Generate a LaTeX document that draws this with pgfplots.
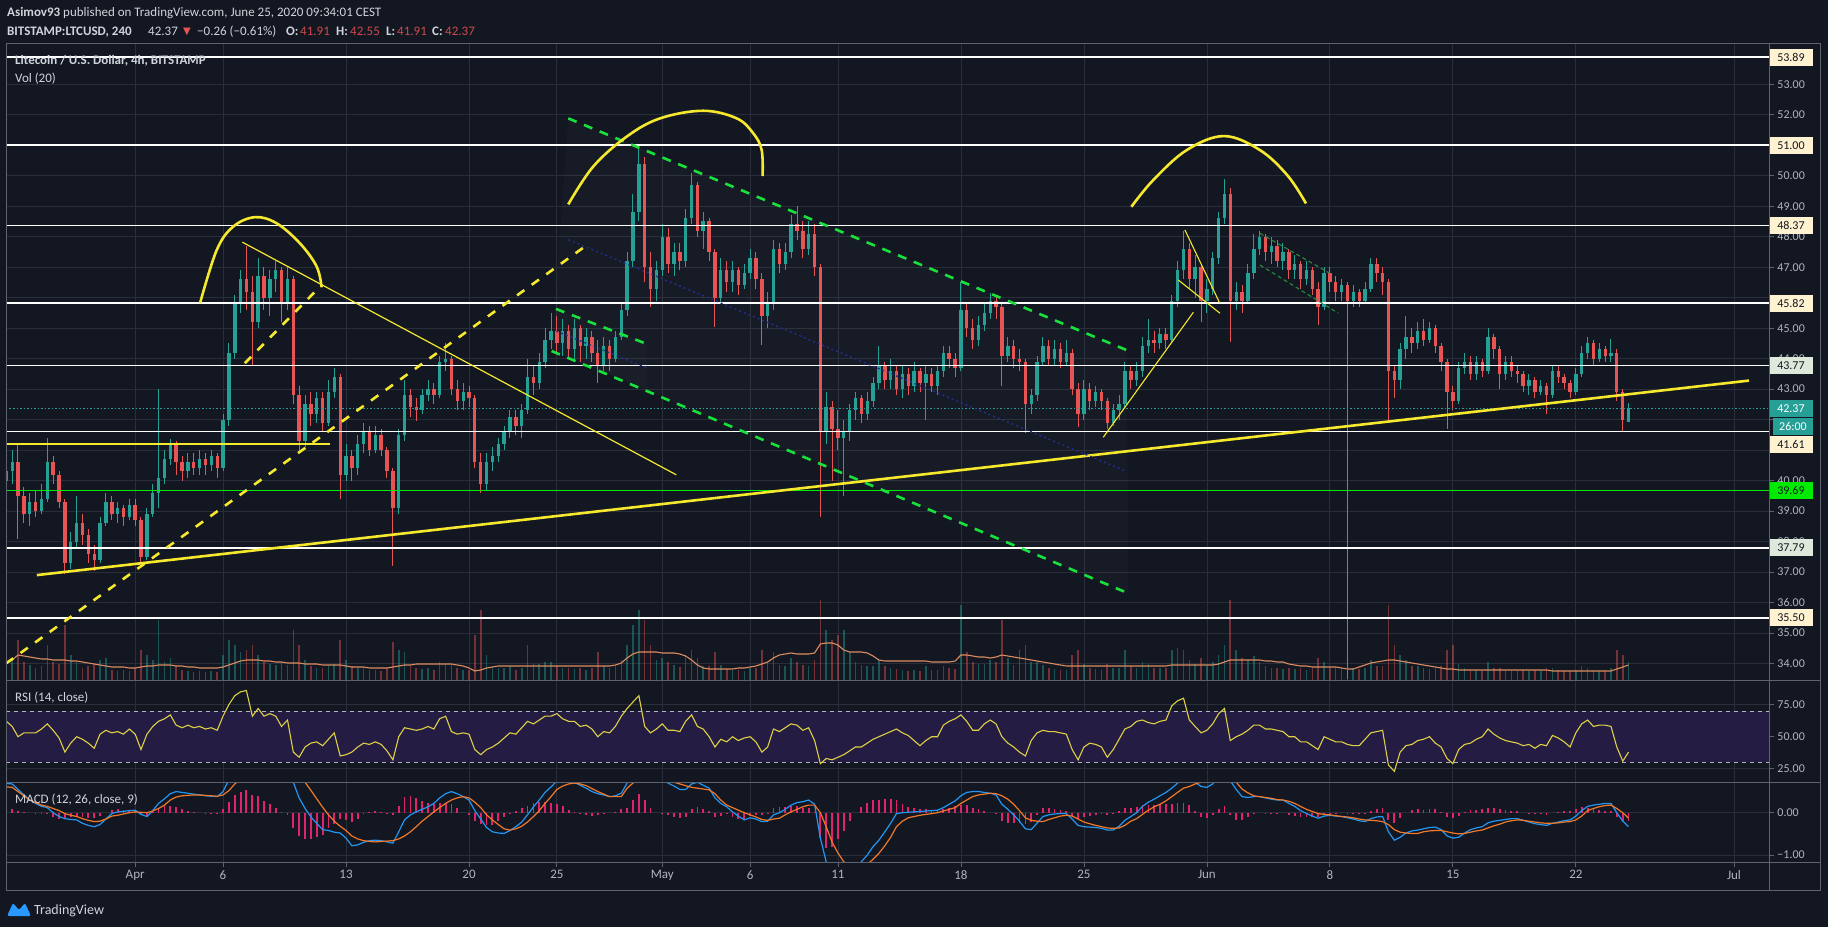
\documentclass[border=0pt]{standalone}
\usepackage{pgfplots}
\pgfplotsset{compat=1.18}
\usepackage{pgfplotstable}
\usepackage{fontspec}
\setmainfont{Carlito}
\newfontfamily\dejavu{DejaVu Sans}
\definecolor{bg}{RGB}{19,23,34}
\definecolor{txt}{RGB}{209,212,220}
\definecolor{labc}{RGB}{178,181,190}
\definecolor{gridc}{RGB}{42,46,58}
\definecolor{framec}{RGB}{95,99,110}
\definecolor{cup}{RGB}{38,160,148}
\definecolor{cdn}{RGB}{232,84,84}
\definecolor{ylw}{RGB}{245,232,45}
\definecolor{grn}{RGB}{25,225,60}
\definecolor{dgrn}{RGB}{40,140,60}
\definecolor{limec}{RGB}{0,235,0}
\definecolor{tealc}{RGB}{38,160,150}
\definecolor{beige}{RGB}{255,242,208}
\definecolor{pale}{RGB}{222,233,220}
\definecolor{rsic}{RGB}{222,208,70}
\definecolor{rsiband}{RGB}{36,28,66}
\definecolor{macdc}{RGB}{33,150,243}
\definecolor{sigc}{RGB}{240,120,40}
\definecolor{histc}{RGB}{225,35,110}
\definecolor{volma}{RGB}{220,140,95}
\definecolor{navy}{RGB}{35,45,140}
\definecolor{tvblue}{RGB}{41,152,255}
\definecolor{redtxt}{RGB}{205,75,75}

\pgfplotstableread{
x o h l c v vm r m s
-7.33 40.0 40.7 39.6 40.3 20 18 62 0.69 0.61
-7.00 40.3 41.0 39.9 40.6 22 20 58 0.68 0.60
-6.67 40.6 41.2 38.1 39.5 40 25 50 0.55 0.50
-6.33 39.5 39.8 38.6 38.9 18 24 53 0.42 0.40
-6.00 38.9 39.6 38.5 39.3 15 23 53 0.30 0.30
-5.67 39.3 39.7 38.8 39.0 12 22 53 0.22 0.24
-5.33 39.0 39.9 38.9 39.4 14 21 56 0.15 0.18
-5.00 39.4 41.4 39.3 40.6 35 21 60 0.12 0.15
-4.67 40.6 40.8 39.9 40.2 18 20 55 0.00 0.10
-4.33 40.2 40.3 39.1 39.3 16 20 49 -0.09 0.05
-4.00 39.3 39.4 36.95 37.3 55 20 38 -0.14 -0.02
-3.67 37.3 38.3 37.1 38.0 25 19 45 -0.16 -0.06
-3.33 38.0 39.5 37.8 38.6 18 19 50 -0.17 -0.09
-3.00 38.6 38.9 37.9 38.2 12 18 48 -0.25 -0.14
-2.67 38.2 38.4 37.3 37.6 14 17 45 -0.30 -0.18
-2.33 37.6 37.9 37.05 37.4 16 16 41 -0.33 -0.21
-2.00 37.4 38.8 37.3 38.6 20 15 52 -0.28 -0.20
-1.67 38.6 39.6 38.5 39.3 22 14 55 -0.15 -0.15
-1.33 39.3 39.5 38.7 38.9 10 13 53 -0.02 -0.08
-1.00 38.9 39.3 38.6 39.1 9 13 54 0.02 -0.06
-0.67 39.1 39.2 38.5 38.8 10 13 52 0.03 -0.03
-0.33 38.8 39.4 38.7 39.2 9 12 56 0.05 0.00
0.00 39.2 39.4 38.5 38.7 12 12 52 0.06 0.02
0.33 38.7 38.8 37.25 37.5 30 13 40 -0.04 0.01
0.67 37.5 39.1 37.4 38.9 25 14 52 -0.09 0.00
1.00 38.9 39.9 38.8 39.6 20 14 58 0.05 0.04
1.33 39.6 43.0 39.1 40.1 60 15 62 0.22 0.10
1.67 40.1 41.0 39.9 40.7 18 15 64 0.33 0.18
2.00 40.7 41.35 40.5 41.2 22 15 67 0.45 0.30
2.33 41.2 41.3 40.2 40.6 14 14 59 0.50 0.37
2.67 40.6 40.8 40.0 40.3 10 14 57 0.48 0.40
3.00 40.3 40.9 40.1 40.6 9 13 59 0.46 0.41
3.33 40.6 40.9 40.2 40.4 8 13 57 0.44 0.42
3.67 40.4 41.0 40.2 40.7 9 12 58 0.42 0.42
4.00 40.7 40.9 40.2 40.5 8 12 56 0.40 0.41
4.33 40.5 41.0 40.3 40.8 9 12 57 0.39 0.40
4.67 40.8 40.9 40.1 40.4 8 12 55 0.38 0.39
5.00 40.4 42.2 40.3 42.0 25 13 66 0.50 0.42
5.33 42.0 44.5 41.8 44.2 40 15 75 0.78 0.52
5.67 44.2 46.1 44.0 45.8 35 17 82 1.10 0.68
6.00 45.8 46.9 45.5 46.6 28 19 85 1.30 0.80
6.33 46.6 47.7 45.6 46.2 30 20 86 1.42 0.88
6.67 46.2 46.7 43.8 45.2 35 20 66 1.40 0.98
7.00 45.2 47.3 45.0 46.7 25 20 72 1.45 1.06
7.33 46.7 47.0 45.6 46.0 18 19 66 1.40 1.12
7.67 46.0 46.9 45.4 46.6 16 19 68 1.36 1.16
8.00 46.6 47.2 46.2 46.9 15 18 66 1.32 1.20
8.33 46.9 47.0 45.2 45.8 18 18 58 1.22 1.21
8.67 45.8 47.0 45.6 46.6 15 17 63 1.15 1.20
9.00 46.6 46.7 42.5 42.8 50 17 38 0.72 1.08
9.33 42.8 43.1 41.0 41.3 35 17 34 0.35 0.90
9.67 41.3 42.8 41.1 42.5 20 16 42 0.10 0.72
10.00 42.5 42.9 41.8 42.2 14 16 45 -0.10 0.53
10.33 42.2 42.9 41.9 42.7 12 16 46 -0.25 0.33
10.67 42.7 42.9 41.6 41.9 12 15 43 -0.40 0.13
11.00 41.9 43.3 41.8 42.9 15 15 48 -0.42 -0.05
11.33 42.9 43.7 42.7 43.4 16 15 53 -0.46 -0.20
11.67 43.4 43.5 39.4 40.2 40 15 35 -0.48 -0.32
12.00 40.2 41.2 40.0 40.8 20 14 36 -0.60 -0.42
12.33 40.8 41.0 40.0 40.4 14 13 38 -0.78 -0.55
12.67 40.4 41.5 40.2 41.2 12 13 42 -0.76 -0.62
13.00 41.2 41.9 40.9 41.6 12 13 45 -0.70 -0.66
13.33 41.6 41.8 40.8 41.0 10 12 44 -0.66 -0.68
13.67 41.0 41.8 40.9 41.5 10 12 46 -0.65 -0.69
14.00 41.5 41.7 40.8 41.0 9 12 44 -0.66 -0.68
14.33 41.0 41.1 40.1 40.3 12 12 39 -0.69 -0.67
14.67 40.3 40.4 37.2 39.1 38 13 32 -0.72 -0.66
15.00 39.1 41.7 38.9 41.5 30 14 50 -0.45 -0.62
15.33 41.5 43.3 41.3 42.8 28 15 57 -0.17 -0.55
15.67 42.8 43.0 42.1 42.4 14 15 56 -0.05 -0.45
16.00 42.4 42.7 41.95 42.3 12 16 55 0.02 -0.33
16.33 42.3 43.0 42.2 42.8 11 16 56 0.08 -0.20
16.67 42.8 43.3 42.6 43.0 12 16 58 0.14 -0.09
17.00 43.0 43.2 42.5 42.8 10 16 56 0.22 0.02
17.33 42.8 44.1 42.7 43.9 18 16 64 0.35 0.12
17.67 43.9 44.5 43.6 44.0 16 16 66 0.45 0.22
18.00 44.0 44.1 42.8 43.0 15 16 54 0.50 0.30
18.33 43.0 43.3 42.3 42.6 12 15 52 0.45 0.35
18.67 42.6 43.2 42.3 42.9 10 14 53 0.38 0.38
19.00 42.9 43.1 42.4 42.7 10 12 52 0.30 0.35
19.33 42.7 42.8 40.4 40.6 45 9 40 0.05 0.25
19.67 40.6 40.9 39.6 39.9 70 10 36 -0.15 0.12
20.00 39.9 40.9 39.7 40.6 25 12 40 -0.35 -0.05
20.33 40.6 41.1 40.3 40.8 14 13 42 -0.45 -0.17
20.67 40.8 41.4 40.6 41.2 12 14 45 -0.48 -0.28
21.00 41.2 41.8 41.0 41.6 12 14 49 -0.49 -0.38
21.33 41.6 42.3 41.4 42.1 14 14 53 -0.42 -0.41
21.67 42.1 42.3 41.5 41.8 10 14 52 -0.33 -0.38
22.00 41.8 42.5 41.4 42.3 12 14 57 -0.22 -0.32
22.33 42.3 44.0 42.2 43.4 35 14 62 -0.05 -0.22
22.67 43.4 43.8 42.8 43.2 16 14 60 0.14 -0.09
23.00 43.2 44.2 43.0 43.9 16 14 63 0.30 0.05
23.33 43.9 45.0 43.7 44.6 18 14 66 0.48 0.22
23.67 44.6 45.5 44.3 44.9 18 14 66 0.61 0.38
24.00 44.9 45.4 44.2 44.5 14 14 68 0.75 0.55
24.33 44.5 45.3 44.1 44.9 12 14 64 0.78 0.63
24.67 44.9 45.1 44.0 44.3 12 14 62 0.75 0.68
25.00 44.3 45.3 44.0 45.0 11 14 62 0.72 0.70
25.33 45.0 45.1 43.9 44.4 12 14 58 0.65 0.68
25.67 44.4 45.0 44.0 44.7 10 14 59 0.58 0.64
26.00 44.7 44.9 43.9 44.2 12 14 56 0.50 0.57
26.33 44.2 44.6 43.2 43.8 28 14 50 0.45 0.50
26.67 43.8 44.7 43.6 44.4 14 14 54 0.42 0.44
27.00 44.4 44.6 43.6 44.0 12 14 53 0.38 0.38
27.33 44.0 44.9 43.9 44.7 14 15 58 0.40 0.38
27.67 44.7 45.8 44.6 45.6 20 17 66 0.46 0.38
28.00 45.6 47.5 45.4 47.2 35 22 72 0.70 0.58
28.33 47.2 49.4 47.0 48.8 55 26 77 1.00 0.70
28.67 48.8 51.0 48.5 50.4 70 28 82 1.25 0.80
29.00 50.4 50.6 46.5 47.0 60 28 58 1.15 0.84
29.33 47.0 47.5 45.7 46.3 35 28 53 0.95 0.85
29.67 46.3 47.2 45.9 46.9 20 28 56 0.82 0.82
30.00 46.9 48.4 46.7 48.0 22 27 60 0.78 0.80
30.33 48.0 48.3 46.8 47.1 18 27 55 0.70 0.76
30.67 47.1 47.8 46.7 47.5 15 27 55 0.63 0.72
31.00 47.5 47.8 46.9 47.2 13 26 54 0.55 0.68
31.33 47.2 48.9 47.0 48.6 25 24 62 0.55 0.64
31.67 48.6 50.1 48.4 49.7 30 20 67 0.68 0.60
32.00 49.7 49.8 48.0 48.2 22 15 58 0.72 0.58
32.33 48.2 48.8 47.6 48.5 14 12 56 0.65 0.56
32.67 48.5 48.6 47.2 47.5 14 11 50 0.58 0.54
33.00 47.5 47.6 45.05 46.0 28 11 42 0.35 0.45
33.33 46.0 47.3 45.8 46.9 15 11 48 0.22 0.30
33.67 46.9 47.2 46.2 46.5 11 11 46 0.14 0.18
34.00 46.5 47.2 46.2 46.9 10 11 50 0.02 0.12
34.33 46.9 47.0 46.1 46.4 10 12 47 -0.08 0.06
34.67 46.4 47.1 46.3 46.8 9 12 49 -0.17 0.00
35.00 46.8 47.6 46.6 47.3 12 13 50 -0.12 -0.05
35.33 47.3 47.5 46.3 46.6 12 14 46 -0.15 -0.10
35.67 46.6 46.8 44.45 45.4 30 16 38 -0.21 -0.16
36.00 45.4 46.2 45.0 45.8 18 18 42 -0.20 -0.18
36.33 45.8 47.9 45.6 47.6 28 22 56 -0.05 -0.15
36.67 47.6 47.8 46.8 47.1 15 25 54 0.00 -0.13
37.00 47.1 47.8 46.9 47.5 14 26 57 0.08 -0.05
37.33 47.5 48.7 47.3 48.4 22 27 60 0.18 0.02
37.67 48.4 49.0 47.9 48.2 18 26 59 0.24 0.08
38.00 48.2 48.5 47.3 47.6 15 26 55 0.26 0.14
38.33 47.6 48.5 47.4 48.1 14 26 57 0.30 0.18
38.67 48.1 48.4 46.7 47.0 20 27 47 0.20 0.18
39.00 47.0 47.1 38.8 41.6 80 36 29 -0.60 0.00
39.33 41.6 42.9 41.2 42.4 50 37 33 -1.16 -0.33
39.67 42.4 42.6 40.0 41.7 40 37 32 -1.50 -0.70
40.00 41.7 42.3 41.0 41.4 45 35 34 -1.58 -0.95
40.33 41.4 42.0 39.5 41.6 50 30 36 -1.60 -1.16
40.67 41.6 42.5 41.3 42.3 28 28 39 -1.45 -1.25
41.00 42.3 42.9 42.0 42.7 18 28 42 -1.30 -1.30
41.33 42.7 42.8 41.9 42.2 15 28 42 -1.16 -1.30
41.67 42.2 42.9 42.0 42.6 14 27 45 -1.00 -1.22
42.00 42.6 43.4 42.4 43.2 14 24 48 -0.80 -1.10
42.33 43.2 44.4 43.0 43.8 20 20 50 -0.65 -0.96
42.67 43.8 43.9 43.0 43.3 14 19 52 -0.45 -0.78
43.00 43.3 44.0 43.0 43.6 12 19 54 -0.25 -0.58
43.33 43.6 43.8 42.8 43.0 11 19 56 -0.02 -0.33
43.67 43.0 43.8 42.7 43.5 10 19 53 0.00 -0.20
44.00 43.5 43.7 42.8 43.1 9 19 51 0.01 -0.12
44.33 43.1 43.9 42.9 43.6 10 19 47 0.02 -0.09
44.67 43.6 43.7 42.9 43.2 9 19 43 0.03 -0.06
45.00 43.2 43.8 42.0 43.5 14 19 47 0.04 -0.04
45.33 43.5 43.7 42.9 43.1 10 18 50 0.05 -0.02
45.67 43.1 43.8 42.8 43.6 10 18 50 0.06 0.00
46.00 43.6 44.4 43.4 44.2 14 18 59 0.12 0.04
46.33 44.2 44.4 43.7 44.0 12 18 62 0.20 0.08
46.67 44.0 44.2 43.4 43.7 11 19 64 0.28 0.12
47.00 43.7 46.5 43.6 45.6 75 25 67 0.40 0.22
47.33 45.6 45.8 44.7 45.0 28 25 62 0.48 0.30
47.67 45.0 45.3 44.3 44.6 18 24 55 0.50 0.38
48.00 44.6 45.4 44.4 45.1 16 23 55 0.50 0.42
48.33 45.1 45.8 44.9 45.5 16 23 60 0.48 0.44
48.67 45.5 46.15 45.3 45.9 20 22 63 0.46 0.46
49.00 45.9 46.1 45.3 45.7 18 23 60 0.42 0.45
49.33 45.7 45.8 43.1 44.1 60 25 50 0.20 0.40
49.67 44.1 44.7 43.9 44.4 22 24 45 0.08 0.32
50.00 44.4 44.6 43.7 44.0 15 23 42 -0.05 0.20
50.33 44.0 44.3 43.6 43.9 30 22 38 -0.20 0.05
50.67 43.9 44.0 41.55 42.5 35 21 35 -0.38 -0.12
51.00 42.5 43.0 42.2 42.8 18 20 47 -0.40 -0.18
51.33 42.8 44.1 42.6 43.9 18 19 53 -0.25 -0.20
51.67 43.9 44.7 43.8 44.4 15 18 55 -0.09 -0.21
52.00 44.4 44.6 43.8 44.0 12 17 54 -0.05 -0.16
52.33 44.0 44.6 43.8 44.3 11 16 54 -0.03 -0.12
52.67 44.3 44.5 43.7 43.9 10 15 53 -0.02 -0.08
53.00 43.9 44.6 43.8 44.2 10 14 52 -0.02 -0.06
53.33 44.2 44.3 42.8 43.0 25 14 40 -0.15 -0.08
53.67 43.0 43.2 41.75 42.2 30 14 32 -0.30 -0.15
54.00 42.2 43.3 42.0 43.0 16 14 42 -0.33 -0.22
54.33 43.0 43.2 42.3 42.6 12 14 45 -0.34 -0.26
54.67 42.6 43.1 42.4 42.9 11 14 44 -0.35 -0.30
55.00 42.9 43.0 42.3 42.6 10 14 42 -0.37 -0.33
55.33 42.6 42.7 41.7 41.9 16 14 34 -0.41 -0.36
55.67 41.9 42.5 41.8 42.3 12 14 40 -0.41 -0.37
56.00 42.3 42.8 42.0 42.5 12 14 48 -0.32 -0.36
56.33 42.5 43.9 42.4 43.6 30 14 56 -0.18 -0.30
56.67 43.6 43.8 43.0 43.3 14 14 58 -0.09 -0.20
57.00 43.3 43.9 43.1 43.6 12 14 62 0.00 -0.14
57.33 43.6 44.7 43.4 44.4 18 14 63 0.15 -0.04
57.67 44.4 45.3 44.2 44.6 16 14 61 0.25 0.06
58.00 44.6 44.9 44.2 44.5 12 14 60 0.32 0.14
58.33 44.5 45.0 44.3 44.8 12 14 62 0.40 0.20
58.67 44.8 45.0 44.3 44.6 12 14 63 0.48 0.28
59.00 44.6 46.1 44.5 45.9 30 15 74 0.58 0.38
59.33 45.9 47.2 45.7 46.9 32 15 78 0.70 0.48
59.67 46.9 48.2 46.6 47.6 30 15 80 0.80 0.58
60.00 47.6 47.8 46.3 46.6 20 15 63 0.80 0.62
60.33 46.6 47.4 46.0 47.0 16 15 58 0.72 0.68
60.67 47.0 47.1 45.2 45.9 22 15 53 0.62 0.72
61.00 45.9 46.6 45.5 46.3 14 15 55 0.60 0.72
61.33 46.3 47.5 46.1 47.3 18 15 60 0.68 0.73
61.67 47.3 48.8 47.1 48.6 25 16 68 0.85 0.76
62.00 48.6 49.9 48.4 49.4 35 18 72 0.95 0.78
62.33 49.4 49.6 44.55 45.9 80 20 47 0.75 0.80
62.67 45.9 46.5 45.6 46.2 30 20 50 0.55 0.72
63.00 46.2 46.4 45.5 45.9 22 20 52 0.38 0.56
63.33 45.9 47.1 45.8 46.8 20 20 55 0.36 0.47
63.67 46.8 48.1 46.6 47.6 24 20 59 0.38 0.40
64.00 47.6 48.2 47.4 48.0 18 20 59 0.38 0.38
64.33 48.0 48.1 47.2 47.5 14 19 56 0.35 0.36
64.67 47.5 48.0 47.1 47.7 12 19 56 0.32 0.34
65.00 47.7 47.9 47.0 47.2 12 18 55 0.30 0.31
65.33 47.2 47.8 46.9 47.5 11 18 54 0.30 0.30
65.67 47.5 47.6 46.6 46.9 12 16 50 0.22 0.27
66.00 46.9 47.4 46.6 47.1 11 15 50 0.15 0.22
66.33 47.1 47.2 46.3 46.6 12 14 46 0.05 0.15
66.67 46.6 47.2 46.4 46.9 10 14 46 -0.02 0.08
67.00 46.9 47.0 46.1 46.3 12 13 43 -0.08 0.03
67.33 46.3 46.5 45.1 45.7 22 13 40 -0.13 -0.02
67.67 45.7 47.0 45.6 46.8 18 13 50 -0.08 -0.04
68.00 46.8 47.0 46.2 46.5 12 13 48 -0.06 -0.05
68.33 46.5 46.7 45.9 46.2 12 13 46 -0.08 -0.07
68.67 46.2 46.6 45.9 46.4 12 12 46 -0.09 -0.09
69.00 46.4 46.5 33.5 45.9 20 11 44 -0.12 -0.10
69.33 45.9 46.4 45.7 46.2 12 11 43 -0.15 -0.12
69.67 46.2 46.3 45.7 45.9 11 13 43 -0.19 -0.15
70.00 45.9 46.5 45.8 46.3 12 15 48 -0.21 -0.17
70.33 46.3 47.3 46.2 47.1 20 17 53 -0.14 -0.18
70.67 47.1 47.3 46.5 46.8 14 18 54 -0.10 -0.19
71.00 46.8 47.0 46.1 46.5 14 19 55 -0.09 -0.21
71.33 46.5 46.6 42.0 43.6 75 20 28 -0.45 -0.28
71.67 43.6 43.8 42.7 43.3 35 20 23 -0.65 -0.40
72.00 43.3 44.5 43.0 44.3 25 19 38 -0.58 -0.46
72.33 44.3 45.4 44.0 44.7 20 18 43 -0.48 -0.48
72.67 44.7 45.0 44.2 44.5 14 17 44 -0.43 -0.49
73.00 44.5 45.2 44.3 44.9 14 16 47 -0.41 -0.49
73.33 44.9 45.3 44.4 44.6 12 15 48 -0.38 -0.45
73.67 44.6 45.2 44.5 45.0 11 14 50 -0.35 -0.43
74.00 45.0 45.1 44.2 44.4 12 13 45 -0.34 -0.42
74.33 44.4 44.5 43.6 43.9 14 12 42 -0.40 -0.42
74.67 43.9 44.0 41.7 42.9 30 11 33 -0.55 -0.45
75.00 42.9 43.1 42.3 42.6 35 11 29 -0.60 -0.48
75.33 42.6 43.9 42.5 43.7 16 10 40 -0.58 -0.50
75.67 43.7 44.2 43.5 43.9 12 10 44 -0.48 -0.49
76.00 43.9 44.1 43.3 43.5 10 10 45 -0.40 -0.46
76.33 43.5 44.1 43.3 43.9 10 10 48 -0.36 -0.43
76.67 43.9 44.0 43.4 43.6 9 10 50 -0.33 -0.41
77.00 43.6 45.0 43.5 44.7 18 10 56 -0.24 -0.36
77.33 44.7 44.8 44.0 44.3 12 10 52 -0.20 -0.31
77.67 44.3 44.4 43.0 43.5 12 10 49 -0.18 -0.27
78.00 43.5 44.1 43.3 43.9 10 10 47 -0.16 -0.22
78.33 43.9 44.1 43.4 43.6 9 10 46 -0.14 -0.19
78.67 43.6 43.8 43.2 43.5 9 10 45 -0.14 -0.17
79.00 43.5 43.6 42.9 43.1 10 10 43 -0.18 -0.18
79.33 43.1 43.5 42.8 43.3 9 10 44 -0.22 -0.20
79.67 43.3 43.4 42.7 42.9 10 10 41 -0.26 -0.22
80.00 42.9 43.3 42.8 43.1 9 10 44 -0.28 -0.24
80.33 43.1 43.2 42.2 42.8 12 10 43 -0.30 -0.25
80.67 42.8 43.8 42.7 43.6 12 9 51 -0.25 -0.25
81.00 43.6 43.8 43.2 43.4 10 9 49 -0.22 -0.24
81.33 43.4 43.5 43.0 43.2 9 9 46 -0.19 -0.22
81.67 43.2 43.3 42.7 42.9 9 9 42 -0.17 -0.21
82.00 42.9 43.7 42.8 43.5 10 9 53 -0.08 -0.17
82.33 43.5 44.4 43.4 44.2 14 9 60 0.05 -0.08
82.67 44.2 44.7 44.0 44.5 12 9 63 0.15 0.05
83.00 44.5 44.6 43.8 44.0 10 9 58 0.18 0.10
83.33 44.0 44.5 43.9 44.3 9 9 59 0.20 0.14
83.67 44.3 44.4 43.9 44.1 9 9 59 0.22 0.17
84.00 44.1 44.65 43.9 44.2 12 9 58 0.22 0.18
84.33 44.2 44.3 42.6 42.9 30 11 42 0.00 0.10
84.67 42.9 43.0 41.6 42.0 25 13 31 -0.20 0.00
85.00 41.91 42.55 41.91 42.37 18 15 38 -0.33 -0.13
}\data

\pgfplotsset{
  tvaxis/.style={
    scale only axis, width=1763pt,
    xmin=-7.353, xmax=92.99,
    axis line style={draw=none},
    xtick={0,5,12,19,24,30,35,40,47,54,61,68,75,82,91},
    xmajorgrids, ymajorgrids,
    grid style={draw=gridc, line width=0.8pt},
    ytick pos=right, yticklabel pos=right,
    xtick pos=bottom,
    tick align=outside,
    major tick length=5pt,
    tick style={draw=framec, line width=0.8pt},
    tick label style={font=\fontsize{12}{12}\selectfont, text=labc},
    /pgf/number format/fixed,
    /pgf/number format/fixed zerofill,
    /pgf/number format/precision=2,
    /pgf/number format/assume math mode=true,
    /pgf/number format/1000 sep={},
  },
}
\tikzset{
  pbox/.style={minimum width=44pt, minimum height=17pt, inner sep=0pt,
    font=\fontsize{12}{12}\selectfont, anchor=center},
  hdr/.style={anchor=base west, inner sep=0pt, text=txt, font=\fontsize{13}{13}\selectfont},
}

\begin{document}
\begin{tikzpicture}[x=1pt,y=1pt]
\fill[bg] (0,0) rectangle (1828,927);

% ---------------- price panel ----------------
\begin{axis}[tvaxis, at={(6pt,247pt)}, anchor=south west, height=636pt,
  ymin=33.46, ymax=54.32, ytick={34,...,53},
  yticklabels={34.00,35.00,36.00,37.00,38.00,39.00,40.00,,,43.00,44.00,45.00,,47.00,48.00,49.00,50.00,,52.00,53.00},
  xticklabels={}, xtick style={draw=none}, clip mode=individual]
  \fill[white, fill opacity=0.018] (axis cs:24.65,51.88) -- (axis cs:56.43,44.28) -- (axis cs:56.54,36.30) -- (axis cs:23.70,44.25) -- cycle;
  \fill[white, fill opacity=0.015] (axis cs:23.95,45.63) -- (axis cs:29.13,44.48) -- (axis cs:29.13,43.0) -- (axis cs:23.95,44.2) -- cycle;
  \addplot[ycomb, draw=cup, draw opacity=0.45, line width=1.6pt, forget plot,
    restrict expr to domain={\thisrow{c}-\thisrow{o}}{0:100}]
    table[x=x, y expr={33.46+\thisrow{v}/30.49}] {\data};
  \addplot[ycomb, draw=cdn, draw opacity=0.45, line width=1.6pt, forget plot,
    restrict expr to domain={\thisrow{c}-\thisrow{o}}{-100:0}]
    table[x=x, y expr={33.46+\thisrow{v}/30.49}] {\data};
  \addplot[volma, line width=1.1pt] table[x=x, y expr={33.46+\thisrow{vm}/30.49}] {\data};
  \addplot[draw=none, forget plot, restrict expr to domain={\thisrow{c}-\thisrow{o}}{0:100},
    error bars/.cd, y dir=both, y explicit, error mark=none,
    error bar style={draw=cup, line width=1pt}]
    table[x=x, y=c, y error plus expr={\thisrow{h}-\thisrow{c}}, y error minus expr={\thisrow{c}-\thisrow{l}}] {\data};
  \addplot[draw=none, forget plot, restrict expr to domain={\thisrow{c}-\thisrow{o}}{-100:0},
    error bars/.cd, y dir=both, y explicit, error mark=none,
    error bar style={draw=cdn, line width=1pt}]
    table[x=x, y=c, y error plus expr={\thisrow{h}-\thisrow{c}}, y error minus expr={\thisrow{c}-\thisrow{l}}] {\data};
  \addplot[draw=none, forget plot, restrict expr to domain={\thisrow{c}-\thisrow{o}}{0:100},
    error bars/.cd, y dir=minus, y explicit, error mark=none,
    error bar style={draw=cup, line width=3.4pt}]
    table[x=x, y=c, y error minus expr={\thisrow{c}-\thisrow{o}}] {\data};
  \addplot[draw=none, forget plot, restrict expr to domain={\thisrow{c}-\thisrow{o}}{-100:0},
    error bars/.cd, y dir=plus, y explicit, error mark=none,
    error bar style={draw=cdn, line width=3.4pt}]
    table[x=x, y=c, y error plus expr={\thisrow{o}-\thisrow{c}}] {\data};
  \addplot[white, line width=1.5pt] coordinates {(-7.353,53.89) (92.99,53.89)};
  \addplot[white, line width=1.5pt] coordinates {(-7.353,51.00) (92.99,51.00)};
  \addplot[white, line width=1.5pt] coordinates {(-7.353,48.37) (92.99,48.37)};
  \addplot[white, line width=1.5pt] coordinates {(-7.353,45.82) (92.99,45.82)};
  \addplot[white, line width=1.5pt] coordinates {(-7.353,43.77) (92.99,43.77)};
  \addplot[white, line width=1.5pt] coordinates {(-7.353,41.61) (92.99,41.61)};
  \addplot[white, line width=1.5pt] coordinates {(-7.353,37.79) (92.99,37.79)};
  \addplot[white, line width=1.5pt] coordinates {(-7.353,35.50) (92.99,35.50)};
  \addplot[limec, line width=1pt] coordinates {(-7.353,39.69) (92.99,39.69)};
  \addplot[tealc, line width=0.9pt, dash pattern=on 1.5pt off 2pt] coordinates {(-7.353,42.37) (92.99,42.37)};
  \addplot[ylw, line width=2.6pt] coordinates {(-7.353,41.20) (11.09,41.20)};
  \addplot[ylw, line width=2.6pt] coordinates {(-5.6,36.90) (91.85,43.28)};
  \addplot[ylw, line width=1.2pt] coordinates {(6.10,47.82) (30.8,40.19)};
  \addplot[ylw, line width=2.6pt, dash pattern=on 9pt off 9pt] coordinates {(-7.36,34.0) (25.65,47.70)};
  \addplot[ylw, line width=2.6pt, dash pattern=on 9pt off 9pt] coordinates {(6.24,43.85) (10.5,46.35)};
  \addplot[ylw, line width=1.1pt] coordinates {(55.10,41.42) (60.23,45.52)};
  \addplot[ylw, line width=1.1pt] coordinates {(59.75,48.22) (61.74,45.81)};
  \addplot[ylw, line width=1.1pt] coordinates {(59.37,46.58) (61.74,45.49)};
  \addplot[navy, line width=1.4pt, dash pattern=on 2pt off 3pt] coordinates {(24.65,47.9) (56.43,40.3)};
  \addplot[navy, line width=1.4pt, dash pattern=on 2pt off 3pt] coordinates {(23.98,44.9) (29.1,43.7)};
  \addplot[grn, line width=2.6pt, dash pattern=on 9pt off 8pt] coordinates {(24.65,51.88) (56.43,44.28)};
  \addplot[grn, line width=2.6pt, dash pattern=on 9pt off 8pt] coordinates {(23.70,44.25) (56.54,36.30)};
  \addplot[grn, line width=2.6pt, dash pattern=on 9pt off 8pt] coordinates {(23.95,45.63) (29.13,44.48)};
  \addplot[dgrn, line width=1.1pt, dash pattern=on 4pt off 3pt] coordinates {(64.02,48.11) (68.0,46.8)};
  \addplot[dgrn, line width=1.1pt, dash pattern=on 4pt off 3pt] coordinates {(64.02,47.07) (68.48,45.49)};
  \addplot[ylw, line width=2.6pt, smooth, tension=0.6] coordinates {(3.69,45.82) (4.64,47.56) (5.58,48.33) (6.82,48.64) (8.05,48.44) (9.38,47.78) (10.33,47.02) (10.61,46.34)};
  \addplot[ylw, line width=2.6pt, smooth, tension=0.6] coordinates {(24.65,49.06) (26.07,50.30) (27.97,51.28) (29.87,51.88) (32.33,52.13) (34.24,51.88) (35.18,51.39) (35.66,50.84) (35.71,49.99)};
  \addplot[ylw, line width=2.6pt, smooth, tension=0.6] coordinates {(56.7,48.98) (57.95,49.86) (59.85,50.84) (61.97,51.3) (64.02,50.84) (65.6,50.0) (66.64,49.09)};
  \coordinate (b5389) at (axis cs:92.99,53.89);
  \coordinate (b5100) at (axis cs:92.99,51.00);
  \coordinate (b4837) at (axis cs:92.99,48.37);
  \coordinate (b4582) at (axis cs:92.99,45.82);
  \coordinate (b4377) at (axis cs:92.99,43.77);
  \coordinate (b4237) at (axis cs:92.99,42.37);
  \coordinate (b2600) at (axis cs:92.99,41.78);
  \coordinate (b4161) at (axis cs:92.99,41.19);
  \coordinate (b3969) at (axis cs:92.99,39.69);
  \coordinate (b3779) at (axis cs:92.99,37.79);
  \coordinate (b3550) at (axis cs:92.99,35.50);
\end{axis}

\begin{axis}[tvaxis, at={(6pt,145pt)}, anchor=south west, height=102pt,
  ymin=14.7, ymax=94.2, ytick={25,50,75},
  xticklabels={}, xtick style={draw=none}]
  \fill[rsiband] (axis cs:-7.353,30) rectangle (axis cs:92.99,70);
  \addplot[labc, line width=0.9pt, dash pattern=on 4pt off 4pt] coordinates {(-7.353,70) (92.99,70)};
  \addplot[labc, line width=0.9pt, dash pattern=on 4pt off 4pt] coordinates {(-7.353,30) (92.99,30)};
  \addplot[rsic, line width=1.1pt] table[x=x, y=r] {\data};
\end{axis}

\begin{axis}[tvaxis, at={(6pt,65pt)}, anchor=south west, height=80pt,
  ymin=-1.165, ymax=0.726, ytick={-1,0}, yticklabels={−1.00,0.00},
  xticklabels={Apr,6,13,20,25,May,6,11,18,25,Jun,8,15,22,Jul},
  xticklabel style={font=\fontsize{13}{13}\selectfont, text=labc}]
  \addplot[ycomb, draw=histc, line width=1.8pt] table[x=x, y expr={\thisrow{m}-\thisrow{s}}] {\data};
  \addplot[macdc, line width=1.2pt] table[x=x, y=m] {\data};
  \addplot[sigc, line width=1.2pt] table[x=x, y=s] {\data};
\end{axis}

\node[pbox, fill=beige, text=bg] at ([xshift=22pt]b5389) {53.89};
\node[pbox, fill=beige, text=bg] at ([xshift=22pt]b5100) {51.00};
\node[pbox, fill=beige, text=bg] at ([xshift=22pt]b4837) {48.37};
\node[pbox, fill=beige, text=bg] at ([xshift=22pt]b4582) {45.82};
\node[pbox, fill=pale, text=bg] at ([xshift=22pt]b4377) {43.77};
\node[pbox, fill=tealc, text=white] at ([xshift=22pt]b4237) {42.37};
\node[pbox, fill=tealc, text=white, minimum width=40pt] at ([xshift=24pt]b2600) {26:00};
\node[pbox, fill=beige, text=bg] at ([xshift=22pt]b4161) {41.61};
\node[pbox, fill=limec, text=bg] at ([xshift=22pt]b3969) {39.69};
\node[pbox, fill=pale, text=bg] at ([xshift=22pt]b3779) {37.79};
\node[pbox, fill=beige, text=bg] at ([xshift=22pt]b3550) {35.50};

\draw[framec, line width=1pt] (6,37) rectangle (1820,883);
\draw[framec, line width=1pt] (6,247) -- (1820,247);
\draw[framec, line width=1pt] (6,145) -- (1820,145);
\draw[framec, line width=1pt] (6,65) -- (1820,65);
\draw[framec, line width=1pt] (1769,37) -- (1769,883);

\node[hdr] at (7,910) {\textbf{Asimov93} published on TradingView.com, June 25, 2020 09:34:01 CEST};
\node[hdr] at (7,891) {\textbf{BITSTAMP:LTCUSD, 240}};
\node[hdr] at (148,891) {42.37};
\node[hdr, text=cdn, font=\dejavu\fontsize{10}{10}\selectfont] at (183,892) {▼};
\node[hdr] at (197,891) {−0.26 (−0.61\%)};
\node[hdr] at (286,891) {\textbf{O:}};
\node[hdr, text=redtxt] at (300,891) {41.91};
\node[hdr] at (336,891) {\textbf{H:}};
\node[hdr, text=redtxt] at (350,891) {42.55};
\node[hdr] at (386,891) {\textbf{L:}};
\node[hdr, text=redtxt] at (397,891) {41.91};
\node[hdr] at (432,891) {\textbf{C:}};
\node[hdr, text=redtxt] at (445,891) {42.37};
\node[hdr, font=\bfseries\fontsize{13}{13}\selectfont] at (15,862) {Litecoin / U.S. Dollar, 4h, BITSTAMP};
\node[hdr] at (15,844) {Vol (20)};
\node[hdr] at (15,226) {RSI (14, close)};
\node[hdr] at (15,124) {MACD (12, 26, close, 9)};
\fill[tvblue, rounded corners=2pt] (7,11) -- (13,24) -- (19,17) -- (25,24) -- (31,11) -- cycle;
\node[hdr, font=\fontsize{14}{14}\selectfont] at (34,13) {TradingView};

\pgfresetboundingbox
\useasboundingbox (0,0) rectangle (1828,927);
\end{tikzpicture}
\end{document}
